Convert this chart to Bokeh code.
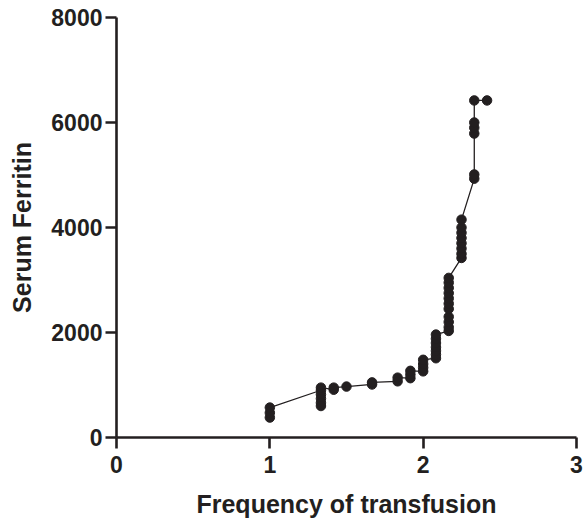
from bokeh.plotting import figure
from bokeh.models import Range1d, FixedTicker, ColumnDataSource
from bokeh.embed import file_html
from bokeh.resources import INLINE

# Frequency of transfusion (per month, n/12) and serum ferritin values, listed in
# the order the connecting line passes through them.
freq_groups = [12/12, 16/12, 17/12, 18/12, 20/12, 22/12, 23/12, 24/12,
               25/12, 26/12, 27/12, 28/12, 29/12]
ferritin_groups = [
    [380, 470, 570],
    [900, 820, 740, 660, 600, 950],
    [910, 950],
    [970],
    [1010, 1050],
    [1070, 1140],
    [1130, 1200, 1270],
    [1260, 1330, 1400, 1480],
    [1510, 1580, 1650, 1720, 1800, 1880, 1960],
    [2030, 2100, 2200, 2300, 2450, 2550, 2650, 2750, 2850, 2950, 3040],
    [3420, 3500, 3600, 3700, 3800, 3900, 4000, 4150],
    [4930, 5010, 5790, 5900, 6000, 6420],
    [6420],
]
x_ticks = [0, 1, 2, 3]
x_tick_labels = ["0", "1", "2", "3"]
y_ticks = [0, 2000, 4000, 6000, 8000]

xs, ys = [], []
for fx, vals in zip(freq_groups, ferritin_groups):
    for v in vals:
        xs.append(fx)
        ys.append(v)
src = ColumnDataSource(dict(x=xs, y=ys))

ink = "#231f20"
p = figure(width=585, height=523, output_backend="svg", toolbar_location=None,
           x_range=Range1d(0, 3), y_range=Range1d(0, 8000),
           min_border_left=116, min_border_right=9, min_border_top=17,
           min_border_bottom=86)
p.outline_line_color = None
p.xgrid.grid_line_color = None
p.ygrid.grid_line_color = None
p.background_fill_color = "white"
p.border_fill_color = "white"

p.line("x", "y", source=src, line_color=ink, line_width=1.3)
p.scatter("x", "y", source=src, size=9.5, fill_color=ink, line_color=ink)

for ax in (p.xaxis[0], p.yaxis[0]):
    ax.axis_line_color = ink
    ax.axis_line_width = 2.6
    ax.major_tick_line_color = ink
    ax.major_tick_line_width = 2.6
    ax.major_tick_out = 11
    ax.major_tick_in = 0
    ax.minor_tick_line_color = None
    ax.major_label_text_font = "Liberation Sans"
    ax.major_label_text_font_style = "bold"
    ax.major_label_text_font_size = "23px"
    ax.major_label_text_color = ink
    ax.axis_label_text_font = "Liberation Sans"
    ax.axis_label_text_font_style = "bold"
    ax.axis_label_text_font_size = "25px"
    ax.axis_label_text_color = ink

p.xaxis.ticker = FixedTicker(ticks=x_ticks)
p.xaxis.major_label_overrides = {t: l for t, l in zip(x_ticks, x_tick_labels)}
p.yaxis.ticker = FixedTicker(ticks=y_ticks)
p.xaxis.axis_label = "Frequency of transfusion"
p.yaxis.axis_label = "Serum Ferritin"
p.xaxis.major_label_standoff = 7
p.xaxis.axis_label_standoff = 14
p.yaxis.major_label_standoff = 3
p.yaxis.axis_label_standoff = 12

open("out.html", "w").write(file_html(p, INLINE))
